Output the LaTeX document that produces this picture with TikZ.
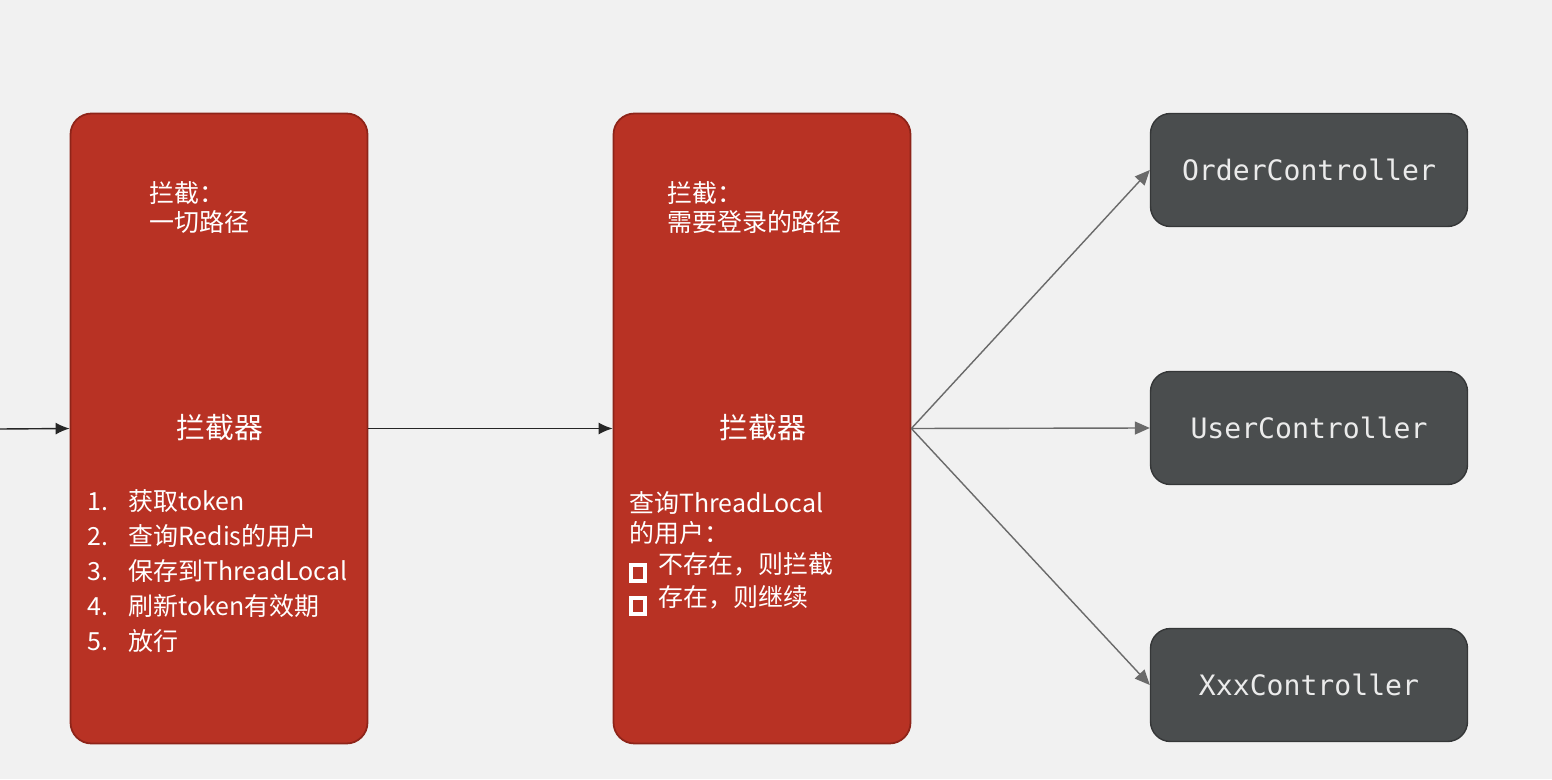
\documentclass[tikz,border=0pt]{standalone}
\usepackage{fontspec}
\setmainfont{Noto Sans CJK SC}
\newfontfamily\codefont{DejaVu Sans Mono}
\usetikzlibrary{arrows.meta,positioning}
\definecolor{pagebg}{HTML}{F1F1F1}
\definecolor{boxred}{HTML}{B83224}
\definecolor{edgered}{HTML}{8E2419}
\definecolor{ctrlgray}{HTML}{4A4D4E}
\definecolor{edgegray}{HTML}{353738}
\definecolor{linkgray}{HTML}{6A6A6A}
\newcommand{\chk}{{\setlength{\fboxrule}{2.3pt}\setlength{\fboxsep}{2.9pt}\raisebox{-0.6pt}{\fbox{\rule{0pt}{1pt}}}}}
\newcommand{\itm}[1]{\makebox[0.82cm][l]{#1}}

\begin{document}
\begin{tikzpicture}[>=Latex,
filter/.style={draw=edgered,line width=1pt,rounded corners=0.42cm,fill=boxred,
minimum width=5.94cm,minimum height=12.6cm},
ctrl/.style={draw=edgegray,line width=0.8pt,rounded corners=0.4cm,fill=ctrlgray,
minimum width=6.34cm,minimum height=2.26cm,text=white!92!black,
font=\codefont\fontsize{16}{18}\selectfont},
note/.style={text=white,align=left,anchor=west,font=\fontsize{14.2}{16.8}\selectfont},
head/.style={text=white,font=\fontsize{16.4}{18}\selectfont},
pass/.style={->,line width=0.8pt,black!85,>={Latex[length=2.8mm,width=2.4mm]}},
link/.style={->,draw=linkgray,line width=0.8pt,>={Triangle[length=3mm,width=2.6mm]}}]
\fill[pagebg] (0,0) rectangle (31.04,15.58);
\useasboundingbox (0,0) rectangle (31.04,15.58);
% the two interceptors
\node[filter] (first) at (4.38,7.01) {};
\node[filter] (second) at (15.24,7.01) {};
% controllers
\node[ctrl] (order) at (26.18,12.18) {OrderController};
\node[ctrl] (user) at (26.18,7.02) {UserController};
\node[ctrl] (xxx) at (26.18,1.88) {XxxController};
% texts of first
\node[note] (firstscope) at (2.86,11.43) {拦截：\\一切路径};
\node[head] (firsthead) at (4.4,7.02) {拦截器};
\node[note,font=\fontsize{14.2}{20}\selectfont] (firststeps) at (1.62,4.16)
{\itm{1.}获取token\\\itm{2.}查询Redis的用户\\\itm{3.}保存到ThreadLocal\\
\itm{4.}刷新token有效期\\\itm{5.}放行};
% texts of second
\node[note] (secondscope) at (13.22,11.43) {拦截：\\需要登录的路径};
\node[head] (secondhead) at (15.26,7.02) {拦截器};
\node[note,font=\fontsize{14.2}{17.2}\selectfont] (secondsteps) at (12.46,4.5)
{查询ThreadLocal\\的用户：\\\chk\hspace{0.22cm}不存在，则拦截\\\chk\hspace{0.22cm}存在，则继续};
% connectors
\coordinate (start) at (0,7.0);
\draw[pass] (start)--(first.west);
\draw[pass] (first.east)--(second.west);
\draw[link] (second.east)--(order.west);
\draw[link] (second.east)--(user.west);
\draw[link] (second.east)--(xxx.west);
\end{tikzpicture}
\end{document}
